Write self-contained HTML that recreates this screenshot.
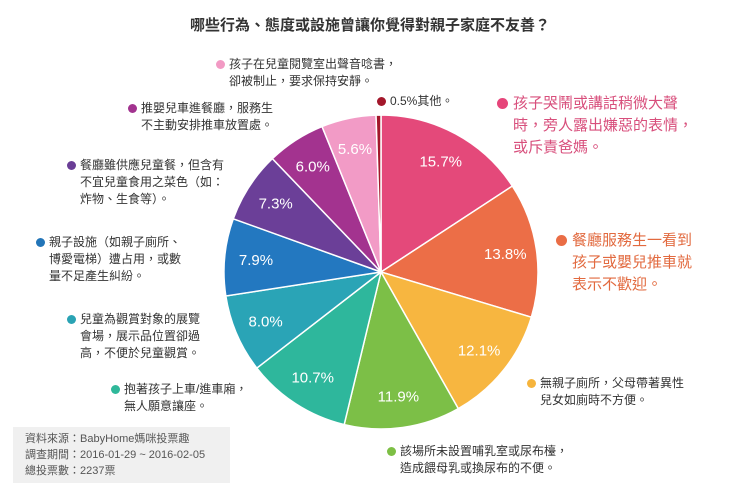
<!DOCTYPE html>
<html><head><meta charset="utf-8"><style>
body{margin:0;width:740px;height:493px;background:#fff;position:relative;overflow:hidden;font-family:"Liberation Sans","Noto Sans CJK TC",sans-serif}
.t{position:absolute;font-size:12px;line-height:17px;color:#333}
.big{font-size:15px;line-height:22px}
.d{display:inline-block;width:9px;height:9px;border-radius:50%;position:absolute;left:-13px;top:4px}
.big .d{width:11px;height:11px;left:-16px;top:5px}
</style></head><body>
<div style="position:absolute;left:0;width:740px;top:14px;text-align:center;font-size:15px;font-weight:bold;color:#333">哪些行為、態度或設施曾讓你覺得對親子家庭不友善？</div>
<svg id="pie" width="740" height="493" style="position:absolute;left:0;top:0"></svg>
<div class="t" style="left:229px;top:56px"><span class="d" style="background:#f29ac4"></span>孩子在兒童閱覽室出聲音唸書，<br>卻被制止，要求保持安靜。</div>
<div class="t" style="left:141px;top:100px"><span class="d" style="background:#a2338f"></span>推嬰兒車進餐廳，服務生<br>不主動安排推車放置處。</div>
<div class="t" style="left:80px;top:157px"><span class="d" style="background:#6a3e96"></span>餐廳雖供應兒童餐，但含有<br>不宜兒童食用之菜色（如：<br>炸物、生食等）。</div>
<div class="t" style="left:49px;top:234px"><span class="d" style="background:#2275b8"></span>親子設施（如親子廁所、<br>博愛電梯）遭占用，或數<br>量不足產生糾紛。</div>
<div class="t" style="left:80px;top:311px"><span class="d" style="background:#2aa3b4"></span>兒童為觀賞對象的展覽<br>會場，展示品位置卻過<br>高，不便於兒童觀賞。</div>
<div class="t" style="left:124px;top:381px"><span class="d" style="background:#2fb89a"></span>抱著孩子上車/進車廂，<br>無人願意讓座。</div>
<div class="t" style="left:390px;top:93px"><span class="d" style="background:#a3172b"></span>0.5%其他。</div>
<div class="t big" style="left:513px;top:93px;color:#d84f7c"><span class="d" style="background:#e6457a"></span>孩子哭鬧或講話稍微大聲<br>時，旁人露出嫌惡的表情，<br>或斥責爸媽。</div>
<div class="t big" style="left:572px;top:230px;color:#e26a3f"><span class="d" style="background:#ea6d45"></span>餐廳服務生一看到<br>孩子或嬰兒推車就<br>表示不歡迎。</div>
<div class="t" style="left:540px;top:375px"><span class="d" style="background:#f6b43c"></span>無親子廁所，父母帶著異性<br>兒女如廁時不方便。</div>
<div class="t" style="left:400px;top:443px"><span class="d" style="background:#7dbf45"></span>該場所未設置哺乳室或尿布檯，<br>造成餵母乳或換尿布的不便。</div>
<div style="position:absolute;left:13px;top:427px;width:217px;height:56px;background:#f0f0f0;font-size:11px;line-height:16px;color:#555;padding:4px 0 0 12px;box-sizing:border-box">資料來源：BabyHome媽咪投票趣<br>調查期間：2016-01-29 ~ 2016-02-05<br>總投票數：2237票</div>
<script>
const categories=["crying","waiter","toilet","nursing","seat","exhibition","facilities","kids-meal","stroller","quiet","other"];
const values=[15.7,13.8,12.1,11.9,10.7,8.0,7.9,7.3,6.0,5.6,0.5];
const labels=["15.7%","13.8%","12.1%","11.9%","10.7%","8.0%","7.9%","7.3%","6.0%","5.6%",""];
const colors=["#e4497a","#ec6e47","#f7b640","#7cbf47","#2eb79c","#2aa4b6","#2378c0","#6b3f98","#a3338f","#f29bc6","#a3172b"];
const svg=document.getElementById('pie');const NS="http://www.w3.org/2000/svg";
const cx=381,cy=272,r=157;const total=values.reduce((a,b)=>a+b,0);
let a0=0;
values.forEach((v,i)=>{
 const a1=a0+v/total*2*Math.PI;
 const p=(a)=>[cx+r*Math.sin(a),cy-r*Math.cos(a)];
 const [x0,y0]=p(a0),[x1,y1]=p(a1);
 const path=document.createElementNS(NS,'path');
 path.setAttribute('d',`M${cx},${cy}L${x0},${y0}A${r},${r} 0 ${a1-a0>Math.PI?1:0} 1 ${x1},${y1}Z`);
 path.setAttribute('fill',colors[i]);path.setAttribute('stroke','#fff');path.setAttribute('stroke-width','1.5');
 
 
 svg.appendChild(path);
 if(labels[i]){
  const am=(a0+a1)/2,lr=r*0.8;
  const t=document.createElementNS(NS,'text');
  t.setAttribute('x',cx+lr*Math.sin(am));t.setAttribute('y',cy-lr*Math.cos(am)+5);
  t.setAttribute('text-anchor','middle');t.setAttribute('fill','#fff');t.setAttribute('font-size','15');
  t.setAttribute('font-family','Liberation Sans, sans-serif');t.textContent=labels[i];
  
  
  svg.appendChild(t);
 }
 a0=a1;
});
</script>
</body></html>
